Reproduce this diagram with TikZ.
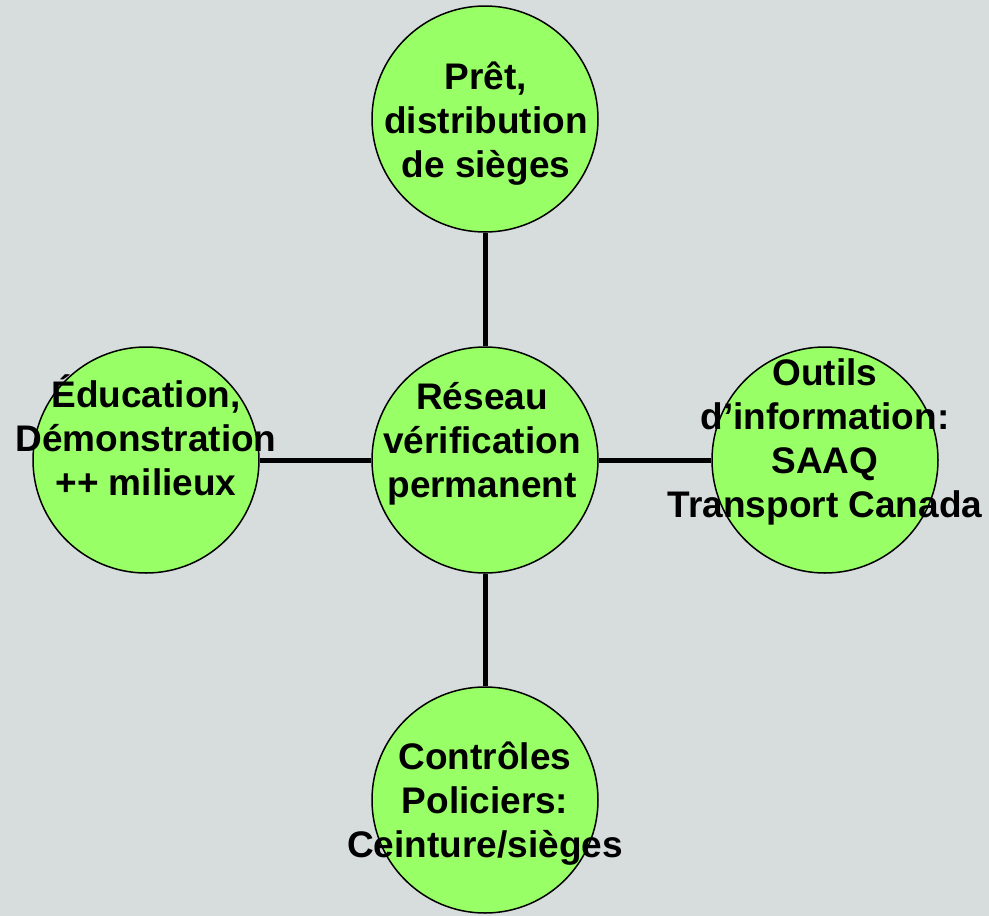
\documentclass[tikz,border=0pt]{standalone}
\usepackage{fontspec}
\setmainfont{Liberation Sans}
\definecolor{bg}{HTML}{D7DCDC}
\definecolor{leaf}{HTML}{99FF66}
\begin{document}
\begin{tikzpicture}[x=1pt,y=-1pt,
  bubble/.style={circle,draw=black,line width=1.5pt,fill=leaf,minimum size=226pt,inner sep=0pt},
  txt/.style={font=\fontsize{37}{44}\selectfont\bfseries,align=center,anchor=base,inner sep=0pt},
  link/.style={line width=5pt}]
\useasboundingbox (0,0) rectangle (989,916);
\fill[bg] (0,0) rectangle (989,916);
\node[bubble] (top) at (485,119) {};
\node[bubble] (mid) at (485,460) {};
\node[bubble] (lft) at (146,460) {};
\node[bubble] (rgt) at (825,460) {};
\node[bubble] (bot) at (485,800) {};
\draw[link] (top) -- (mid);
\draw[link] (mid) -- (bot);
\draw[link] (lft) -- (mid);
\draw[link] (mid) -- (rgt);
\node[txt] (ttop) at (486,177) {Prêt,\\distribution\\de sièges};
\node[txt] (tmid) at (482,497) {Réseau\hspace{9pt}\\vérification\hspace{9pt}\\permanent};
\node[txt] (tlft) at (146,495) {Éducation,\\Démonstration\\++ milieux};
\node[txt] (trgt) at (825,517) {Outils\hspace{9pt}\\d’information:\\SAAQ\\Transport Canada};
\node[txt] (tbot) at (485,857) {Contrôles\hspace{9pt}\\Policiers:\\Ceinture/sièges};
\end{tikzpicture}
\end{document}
